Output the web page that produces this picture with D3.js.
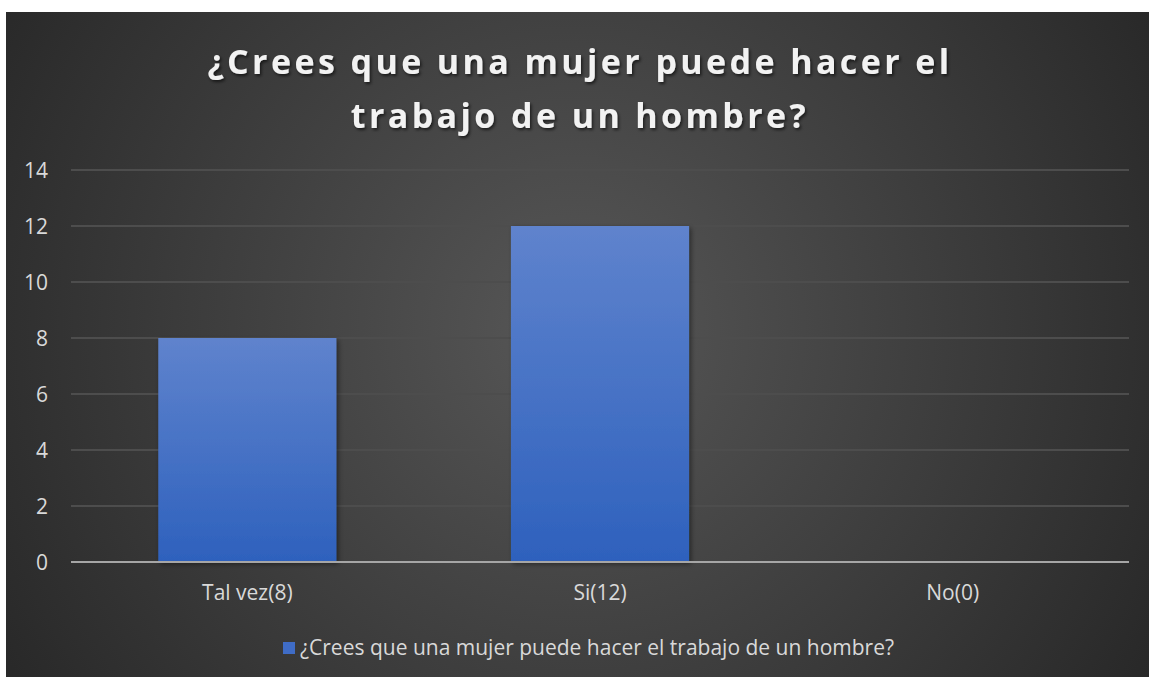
<!DOCTYPE html>
<html><head><meta charset="utf-8">
<script src="https://cdn.jsdelivr.net/npm/d3@7"></script>
<style>html,body{margin:0;padding:0;background:#fff;}svg{display:block;}</style>
</head><body>
<script>
const categories = ["Tal vez(8)", "Si(12)", "No(0)"];
const values = [8, 12, 0];
const yTicks = [0, 2, 4, 6, 8, 10, 12, 14];
const titleLines = ["¿Crees que una mujer puede hacer el", "trabajo de un hombre?"];
const seriesName = "¿Crees que una mujer puede hacer el trabajo de un hombre?";

(function(){
const W = 1149, H = 677;
const FS = 21;
const svg = d3.select("body").append("svg").attr("width", W).attr("height", H);
const defs = svg.append("defs");
const rg = defs.append("radialGradient").attr("id","bg").attr("gradientUnits","userSpaceOnUse")
  .attr("cx", 575).attr("cy", 330).attr("r", 700);
rg.append("stop").attr("offset","0%").attr("stop-color","#575757");
rg.append("stop").attr("offset","100%").attr("stop-color","#262626");
const bg = defs.append("linearGradient").attr("id","bar").attr("x1",0).attr("y1",0).attr("x2",0).attr("y2",1);
bg.append("stop").attr("offset","0%").attr("stop-color","#5f83cd");
bg.append("stop").attr("offset","100%").attr("stop-color","#2e61bd");
const sh = defs.append("filter").attr("id","sh").attr("x","-10%").attr("y","-10%").attr("width","130%").attr("height","130%");
sh.append("feDropShadow").attr("dx",2).attr("dy",2).attr("stdDeviation",2.5).attr("flood-color","#000").attr("flood-opacity",0.45);
const tsh = defs.append("filter").attr("id","tsh").attr("x","-5%").attr("y","-20%").attr("width","110%").attr("height","150%");
tsh.append("feDropShadow").attr("dx",1.5).attr("dy",2).attr("stdDeviation",1.5).attr("flood-color","#000").attr("flood-opacity",0.6);

svg.append("rect").attr("x",6).attr("y",12).attr("width",W-6).attr("height",H-12).attr("fill","url(#bg)");

const pl = 71, pr = 1129, pt = 170, pb = 562;
const x = d3.scaleBand().domain(categories).range([pl, pr]).paddingInner(0.495).paddingOuter(0.2475);
const y = d3.scaleLinear().domain([0, 14]).range([pb, pt]);

// gridlines
svg.append("g").selectAll("line").data(yTicks.filter(d => d > 0)).join("line")
  .attr("x1", pl).attr("x2", pr).attr("y1", d => y(d)).attr("y2", d => y(d))
  .attr("stroke", "#4d4d4d").attr("stroke-width", 2);

// y labels
const yAxis = d3.axisLeft(y).tickValues(yTicks).tickSize(0).tickPadding(0);
const ya = svg.append("g").attr("transform", `translate(48,0)`).call(yAxis);
ya.select(".domain").remove();
ya.selectAll("text").attr("fill","#d9d9d9").attr("font-family","Open Sans, sans-serif").attr("font-size",FS).attr("dy","0.36em");

// bars
svg.append("g").selectAll("rect").data(categories.map((c,i)=>({c, v: values[i]})).filter(d=>d.v>0)).join("rect")
  .attr("x", d => x(d.c)).attr("width", x.bandwidth())
  .attr("y", d => y(d.v)).attr("height", d => y(0) - y(d.v))
  .attr("fill", "url(#bar)").attr("filter","url(#sh)");

// x axis
svg.append("line").attr("x1", pl).attr("x2", pr).attr("y1", y(0)).attr("y2", y(0))
  .attr("stroke", "#a6a6a6").attr("stroke-width", 2);
const xAxis = d3.axisBottom(x).tickSize(0).tickPadding(0);
const xa = svg.append("g").attr("transform", `translate(0,${y(0)})`).call(xAxis);
xa.select(".domain").remove();
xa.selectAll("text").attr("fill","#d9d9d9").attr("font-family","Open Sans, sans-serif").attr("font-size",FS).attr("y", 23).attr("dy","0.71em");

// title
svg.append("g").attr("filter","url(#tsh)").selectAll("text").data(titleLines).join("text")
  .attr("x", 580).attr("y", (d,i) => 74 + i*54)
  .attr("text-anchor","middle").attr("fill","#f2f2f2")
  .attr("font-family","Open Sans, sans-serif").attr("font-weight","bold").attr("font-size",34)
  .attr("letter-spacing", 3.4)
  .text(d => d);

// legend
const lg = svg.append("g");
lg.append("rect").attr("x",283).attr("y",642).attr("width",12).attr("height",12).attr("fill","#3f6cc6");
lg.append("text").attr("x",300).attr("y",655).attr("fill","#d9d9d9")
  .attr("font-family","Open Sans, sans-serif").attr("font-size",FS).text(seriesName);
})();
</script>
</body></html>
